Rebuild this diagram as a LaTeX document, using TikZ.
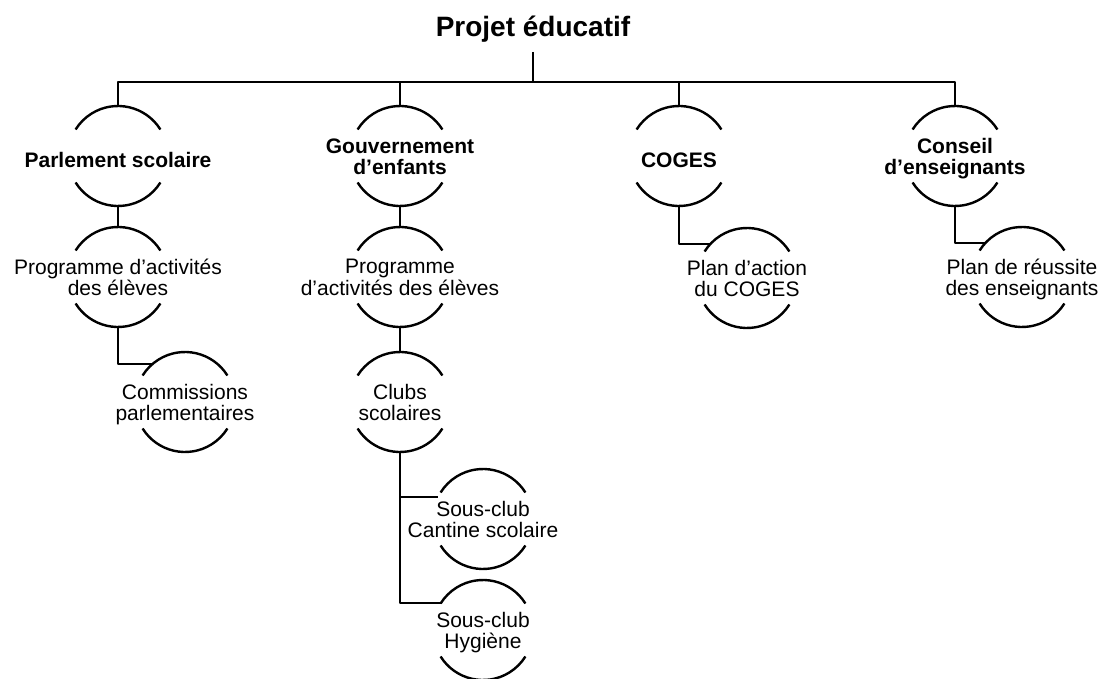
\documentclass[tikz,border=0pt]{standalone}
\usepackage{fontspec}
\setmainfont{Liberation Sans}
\newcommand\txtbul[2][3.5pt]{\makebox[0pt]{\raisebox{-#1}[\height][\depth]{\begin{tabular}{@{}c@{}}#2\end{tabular}}}}
\begin{document}
\begin{tikzpicture}[x=1pt,y=1pt,line width=2.4pt,line join=round,
  bulle/.style={circle,minimum size=100pt,inner sep=0pt,outer sep=0pt,font=\fontsize{21}{20.5}\selectfont},
  chef/.style={bulle,font=\fontsize{21}{20.5}\selectfont\bfseries}]
\useasboundingbox (0,0) rectangle (1101,-679);
\node[font=\fontsize{28}{30}\selectfont\bfseries,anchor=base] (titre) at (533,-37) {Projet éducatif};
\coordinate (bus) at (533,-82);
% premier niveau
\node[chef] (ps) at (118,-156) {\txtbul[7pt]{Parlement scolaire}};
\node[chef] (ge) at (400,-156) {\txtbul{Gouvernement\\d’enfants}};
\node[chef] (co) at (679,-156) {\txtbul[7pt]{COGES}};
\node[chef] (ce) at (955,-156) {\txtbul{Conseil\\d’enseignants}};
% sous-niveaux
\node[bulle] (pa1) at (118,-277) {\txtbul{Programme d’activités\\des élèves}};
\node[bulle] (cp) at (185,-402) {\txtbul{Commissions\\parlementaires}};
\node[bulle] (pa2) at (400,-277) {\txtbul{Programme\\d’activités des élèves}};
\node[bulle] (cs) at (400,-402) {\txtbul{Clubs\\scolaires}};
\node[bulle] (sc1) at (483,-519) {\txtbul{Sous-club\\Cantine scolaire}};
\node[bulle] (sc2) at (483,-630) {\txtbul{Sous-club\\Hygiène}};
\node[bulle] (pl) at (747,-278) {\txtbul{Plan d’action\\du COGES}};
\node[bulle] (pr) at (1022,-277) {\txtbul{Plan de réussite\\des enseignants}};
\foreach \n in {ps,ge,co,ce,pa1,cp,pa2,cs,sc1,sc2,pl,pr}
  \draw (\n.32) arc[start angle=32,end angle=148,radius=50pt]
        (\n.212) arc[start angle=212,end angle=328,radius=50pt];
% liaisons
\draw ([yshift=-15pt]titre.base) -- (bus);
\draw (ps.north) |- (bus) -| (ce.north);
\foreach \n in {ge,co} \draw (\n.north) -- (\n.north |- bus);
\draw (ps.south) -- (pa1.north);
\draw (pa1.south) |- (cp.130);
\draw (ge.south) -- (pa2.north);
\draw (pa2.south) -- (cs.north);
\draw (cs.south) |- (sc1.154);
\draw (cs.south) |- (sc2.147);
\draw (co.south) |- (pl.137);
\draw (ce.south) |- (pr.137);
\end{tikzpicture}
\end{document}
